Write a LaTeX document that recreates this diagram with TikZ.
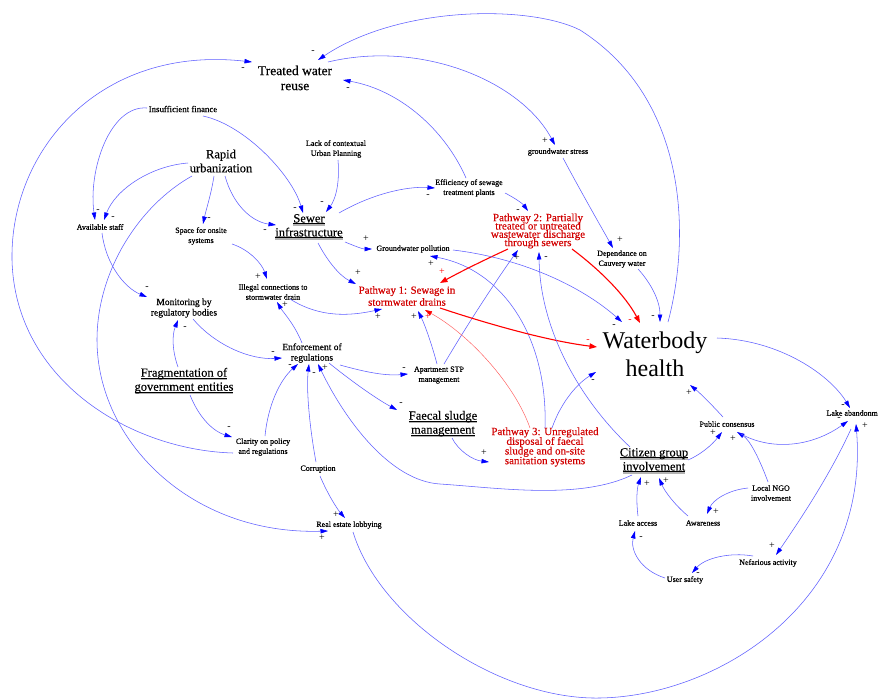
\documentclass[tikz,border=0pt]{standalone}
\usepackage{fontspec}
\setmainfont{Liberation Serif}
\newfontfamily\heavyf{Liberation Serif}[FakeBold=0.55]
\newfontfamily\semif{Liberation Serif}[FakeBold=0.25]
\usetikzlibrary{arrows.meta}
\definecolor{lnk}{RGB}{95,95,255}
\definecolor{tipc}{RGB}{0,0,255}
\definecolor{pwred}{RGB}{210,0,0}
% underline with a grey shadow band
\newcommand{\ulsh}[1]{\leavevmode\setbox0=\hbox{#1}\rlap{\color{black!30}\rule[-3.4pt]{\wd0}{2.2pt}}\rlap{\rule[-1.5pt]{\wd0}{0.5pt}}\box0}
% allow lines closer than their natural height
\newcommand{\tightlns}{\lineskiplimit=-20pt\relax\lineskip=0pt\relax}
\begin{document}
\begin{tikzpicture}[x=1pt,y=-1pt,
  sm/.style={align=center,inner sep=0pt,font=\heavyf\fontsize{8}{10}\selectfont},
  mid/.style={align=center,inner sep=0pt,font=\heavyf\fontsize{9.5}{10.5}\selectfont},
  md/.style={align=center,inner sep=0pt,font=\semif\fontsize{12.5}{14}\selectfont},
  pw/.style={align=center,inner sep=0pt,text=pwred},
  lk/.style={draw=lnk,line width=0.55pt,-{Triangle[length=7.5pt,width=4.5pt,color=tipc]}},
  rk/.style={draw=red,line width=1.1pt,-{Triangle[length=7.5pt,width=5.5pt]}},
  rt/.style={draw=red!65,line width=0.45pt,-{Triangle[length=7pt,width=4.5pt,color=red]}},
  sg/.style={inner sep=0pt,font=\fontsize{10}{10}\selectfont},
  sgr/.style={sg,text=red}]
\fill[white] (0,0) rectangle (878,699);
\useasboundingbox (0,0) rectangle (878,699);

% ---- variables ----
\node[md,font=\semif\fontsize{13.5}{15}\selectfont] (twr) at (295,78) {Treated water\\reuse};
\node[sm,font=\heavyf\fontsize{8.8}{10}\selectfont] (fin) at (183,109) {Insufficient finance};
\node[md] (rap) at (221,161) {Rapid\\urbanization};
\node[sm] (lack) at (336,149) {Lack of contextual\\Urban Planning};
\node[sm] (eff) at (469,188) {Efficiency of sewage\\treatment plants};
\node[sm] (gws) at (558,152) {groundwater stress};
\node[sm] (staff) at (100,227) {Available staff};
\node[sm] (space) at (201,236) {Space for onsite\\systems};
\node[md] (sewer) at (309,227) {\ulsh{Sewer}\\\ulsh{infrastructure}};
\node[pw,font=\semif\fontsize{11}{8.3}\selectfont\tightlns] (pw2) at (538,231)
  {Pathway 2: Partially\\treated or untreated\\wastewater discharge\\through sewers};
\node[sm] (gwp) at (413,249) {Groundwater pollution};
\node[sm] (dep) at (622,259) {Dependance on\\Cauvery water};
\node[sm] (ill) at (273,292) {Illegal connections to\\stormwater drain};
\node[pw,font=\semif\fontsize{10.8}{12}\selectfont] (pw1) at (407,296) {Pathway 1: Sewage in\\stormwater drains};
\node[mid] (mon) at (184,308) {Monitoring by\\regulatory bodies};
\node[align=center,inner sep=0pt,font=\fontsize{24}{28}\selectfont] (wb) at (655,354) {Waterbody\\health};
\node[mid] (enf) at (312,353) {Enforcement of\\regulations};
\node[sm] (apt) at (439,375) {Apartment STP\\management};
\node[md] (frag) at (184,381) {\ulsh{Fragmentation of}\\\ulsh{government entities}};
\node[md] (fsm) at (443,424) {\ulsh{Faecal sludge}\\\ulsh{management}};
\node[pw,font=\semif\fontsize{11}{9.7}\selectfont\tightlns] (pw3) at (545,447)
  {Pathway 3: Unregulated\\disposal of faecal\\sludge and on-site\\sanitation systems};
\node[sm] (pc) at (727,424) {Public consensus};
\node[sm] (la) at (857,413) {Lake abandonment};
\node[md] (cgi) at (654,461) {\ulsh{Citizen group}\\\ulsh{involvement}};
\node[sm] (ngo) at (771,493) {Local NGO\\involvement};
\node[sm] (acc) at (638,523) {Lake access};
\node[sm] (awa) at (703,523) {Awareness};
\node[sm] (nef) at (768,563) {Nefarious activity};
\node[sm] (us) at (685,580) {User safety};
\node[sm] (cla) at (263,447) {Clarity on policy\\and regulations};
\node[sm] (cor) at (318,469) {Corruption};
\node[sm] (rel) at (349,525) {Real estate lobbying};

% ---- causal links ----
\draw[lk] ([shift={(-36,-1)}]fin.center) .. controls (110,105) and (88,170) .. ([shift={(-5,-7)}]staff.center) node[sg] (s1) at (98,211) {-};
\draw[lk] ([shift={(20,7)}]fin.center) .. controls (245,125) and (292,175) .. ([shift={(-6,-14)}]sewer.center) node[sg] (s2) at (295,209) {-};
\draw[lk] ([shift={(-33,2)}]rap.center) .. controls (150,166) and (115,190) .. ([shift={(4,-7)}]staff.center) node[sg] (s3) at (113,218) {-};
\draw[lk] ([shift={(-7,15)}]rap.center) .. controls (211,195) and (206,210) .. ([shift={(2,-12)}]space.center) node[sg] (s4) at (209,219) {-};
\draw[lk] ([shift={(4,15)}]rap.center) .. controls (233,205) and (252,222) .. ([shift={(-33,-2)}]sewer.center) node[sg] (s5) at (265,231) {-};
\draw[lk] ([shift={(2,11)}]lack.center) .. controls (340,185) and (335,200) .. ([shift={(17,-15)}]sewer.center) node[sg] (s6) at (322,203) {-};
\draw[lk] ([shift={(30,-14)}]sewer.center) .. controls (370,195) and (405,186) .. ([shift={(-34,0)}]eff.center) node[sg] (s7) at (428,196) {-};
\draw[lk] ([shift={(-29,15)}]rap.center) .. controls (140,205) and (97,270) .. (97,340)
  .. controls (97,440) and (190,535) .. ([shift={(-21,6)}]rel.center) node[sg] (s8) at (322,538) {+};
\draw[lk] ([shift={(36,15)}]sewer.center) .. controls (355,246) and (362,249) .. ([shift={(-41,0)}]gwp.center) node[sg] (s9) at (366,239) {+};
\draw[lk] ([shift={(9,16)}]sewer.center) .. controls (328,262) and (340,276) .. ([shift={(-51,-12)}]pw1.center) node[sg] (s10) at (358,273) {+};
\draw[lk] ([shift={(31,8)}]space.center) .. controls (250,250) and (262,264) .. ([shift={(-6,-13)}]ill.center) node[sg] (s11) at (258,277) {+};
\draw[lk] ([shift={(2,6)}]staff.center) .. controls (106,265) and (125,288) .. ([shift={(-37,-11)}]mon.center) node[sg] (s12) at (147,288) {-};
\draw[lk] ([shift={(17,7)}]ill.center) .. controls (320,318) and (350,316) .. ([shift={(-25,13)}]pw1.center) node[sg] (s13) at (378,317) {+};
\draw[lk] ([shift={(-10,-10)}]enf.center) .. controls (295,325) and (283,312) .. ([shift={(4,10)}]ill.center) node[sg] (s14) at (285,305) {+};
\draw[lk] ([shift={(9,11)}]mon.center) .. controls (215,345) and (250,360) .. ([shift={(-30,5)}]enf.center) node[sg] (s15) at (273,353) {-};
\draw[lk] ([shift={(-6,-14)}]frag.center) .. controls (172,350) and (172,335) .. ([shift={(-6,12)}]mon.center) node[sg] (s16) at (185,328) {-};
\draw[lk] ([shift={(6,14)}]frag.center) .. controls (200,420) and (215,432) .. ([shift={(-31,-10)}]cla.center) node[sg] (s17) at (229,428) {-};
\draw[lk] ([shift={(2,-11)}]cla.center) .. controls (268,405) and (280,380) .. ([shift={(-14,11)}]enf.center) node[sg] (s18) at (290,366) {-};
\draw[lk] ([shift={(-2,-7)}]cor.center) .. controls (310,430) and (306,390) .. ([shift={(-3,11)}]enf.center) node[sg] (s19) at (314,374) {-};
\draw[lk] ([shift={(2,7)}]cor.center) .. controls (328,495) and (338,510) .. ([shift={(-4,-7)}]rel.center) node[sg] (s20) at (336,515) {+};
\draw[lk] ([shift={(-22,14)}]cgi.center) .. controls (580,500) and (500,488) .. (440,484)
  .. controls (390,481) and (345,420) .. ([shift={(6,11)}]enf.center) node[sg] (s21) at (325,368) {+};
\draw[lk] ([shift={(28,12)}]enf.center) .. controls (365,372) and (385,376) .. ([shift={(-31,-1)}]apt.center) node[sg] (s22) at (404,369) {-};
\draw[lk] ([shift={(17,10)}]enf.center) .. controls (350,380) and (375,398) .. ([shift={(-46,-14)}]fsm.center) node[sg] (s23) at (401,404) {-};
\draw[lk] ([shift={(9,14)}]fsm.center) .. controls (458,450) and (472,460) .. ([shift={(-56,15)}]pw3.center) node[sg] (s24) at (484,453) {+};
\draw[lk] ([shift={(-2,-11)}]apt.center) .. controls (432,345) and (425,325) .. ([shift={(11,15)}]pw1.center) node[sg] (s25) at (414,317) {+};
\draw[lk] ([shift={(5,-11)}]apt.center) .. controls (470,320) and (500,275) .. ([shift={(-20,19)}]pw2.center) node[sg] (s26) at (517,258) {+};
\draw[rt] ([shift={(-15,-19)}]pw3.center) .. controls (515,385) and (470,335) .. ([shift={(18,14)}]pw1.center) node[sgr] (s27) at (428,317) {+};
\draw[lk] ([shift={(0,-19)}]pw3.center) .. controls (548,340) and (505,270) .. ([shift={(17,7)}]gwp.center) node[sg] (s28) at (431,264) {+};
\draw[lk] ([shift={(7,-19)}]pw3.center) .. controls (560,405) and (575,385) .. ([shift={(-59,18)}]wb.center) node[sg] (s29) at (593,381) {-};
\draw[rk] ([shift={(33,12)}]pw1.center) .. controls (470,318) and (540,340) .. ([shift={(-58,-7)}]wb.center) node[sgr] (s30) at (588,341) {-};
\draw[rk] ([shift={(-30,18)}]pw2.center) .. controls (480,262) and (460,272) .. ([shift={(33,-13)}]pw1.center) node[sgr] (s31) at (442,272) {+};
\draw[rk] ([shift={(34,18)}]pw2.center) .. controls (600,270) and (625,295) .. ([shift={(-15,-31)}]wb.center) node[sgr] (s32) at (630,321) {-};
\draw[lk] ([shift={(40,1)}]gwp.center) .. controls (520,258) and (580,285) .. ([shift={(-33,-32)}]wb.center) node[sg] (s33) at (614,326) {-};
\draw[lk] ([shift={(16,10)}]dep.center) .. controls (650,282) and (660,300) .. ([shift={(5,-32)}]wb.center) node[sg] (s34) at (653,317) {-};
\draw[lk] ([shift={(13,-32)}]wb.center) .. controls (690,240) and (690,100) .. (580,30)
  .. controls (530,5) and (400,5) .. ([shift={(23,-18)}]twr.center) node[sg] (s35) at (313,52) {-};
\draw[lk] ([shift={(33,-16)}]twr.center) .. controls (420,40) and (520,80) .. ([shift={(-3,-7)}]gws.center) node[sg] (s36) at (545,141) {+};
\draw[lk] ([shift={(-3,-10)}]eff.center) .. controls (445,130) and (400,90) .. ([shift={(48,2)}]twr.center) node[sg] (s37) at (348,89) {-};
\draw[lk] ([shift={(5,6)}]gws.center) .. controls (580,190) and (600,225) .. ([shift={(-9,-11)}]dep.center) node[sg] (s38) at (620,240) {+};
\draw[lk] ([shift={(36,5)}]eff.center) .. controls (515,198) and (523,204) .. ([shift={(-10,-20)}]pw2.center) node[sg] (s39) at (518,211) {-};
\draw[lk] ([shift={(-24,-14)}]cgi.center) .. controls (580,400) and (540,330) .. ([shift={(1,21)}]pw2.center) node[sg] (s40) at (546,258) {-};
\draw[lk] ([shift={(34,-1)}]cgi.center) .. controls (700,455) and (712,445) .. ([shift={(-5,8)}]pc.center) node[sg] (s41) at (713,433) {+};
\draw[lk] ([shift={(-4,-7)}]pc.center) .. controls (712,405) and (700,393) .. ([shift={(35,31)}]wb.center) node[sg] (s42) at (689,393) {+};
\draw[lk] ([shift={(62,-16)}]wb.center) .. controls (780,340) and (830,375) .. ([shift={(-7,-5)}]la.center) node[sg] (s43) at (843,406) {-};
\draw[lk] ([shift={(-3,-11)}]ngo.center) .. controls (760,460) and (750,440) .. ([shift={(10,8)}]pc.center) node[sg] (s44) at (733,439) {+};
\draw[lk] ([shift={(14,10)}]pc.center) .. controls (770,450) and (810,448) .. ([shift={(-9,8)}]la.center) node[sg] (s45) at (839,419) {-};
\draw[lk] ([shift={(-6,16)}]la.center) .. controls (830,475) and (800,520) .. ([shift={(8,-8)}]nef.center) node[sg] (s46) at (772,546) {+};
\draw[lk] ([shift={(4,7)}]rel.center) .. controls (380,620) and (500,700) .. (600,698)
  .. controls (720,696) and (870,600) .. ([shift={(-1,11)}]la.center) node[sg] (s47) at (865,426) {+};
\draw[lk] ([shift={(-15,-7)}]nef.center) .. controls (730,552) and (705,558) .. ([shift={(7,-7)}]us.center) node[sg] (s48) at (698,574) {-};
\draw[lk] ([shift={(-20,-2)}]us.center) .. controls (640,570) and (630,550) .. ([shift={(-3,8)}]acc.center) node[sg] (s49) at (641,538) {-};
\draw[lk] ([shift={(0,-7)}]acc.center) .. controls (636,500) and (637,488) .. ([shift={(-13,16)}]cgi.center) node[sg] (s50) at (647,484) {+};
\draw[lk] ([shift={(-15,-7)}]awa.center) .. controls (675,505) and (665,492) .. ([shift={(5,17)}]cgi.center) node[sg] (s51) at (666,481) {+};
\draw[lk] ([shift={(-23,-5)}]ngo.center) .. controls (728,490) and (713,500) .. ([shift={(4,-9)}]awa.center) node[sg] (s52) at (716,512) {+};
\draw[lk] ([shift={(-30,6)}]cla.center) .. controls (130,450) and (15,380) .. (12,260)
  .. controls (10,150) and (100,45) .. ([shift={(-43,-16)}]twr.center) node[sg] (s53) at (243,69) {-};
\end{tikzpicture}
\end{document}
